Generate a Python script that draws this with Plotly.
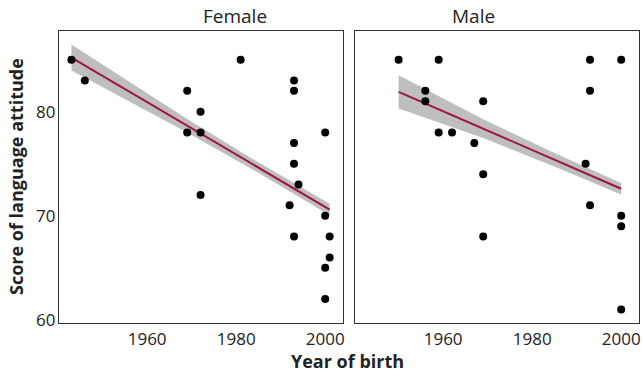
import plotly.graph_objects as go

# Female panel data
female_year = [1943, 1946, 1969, 1972, 1969, 1972, 1981, 1993, 1993, 2000, 1993,
               1993, 1994, 1972, 1992, 2000, 1993, 2001, 2001, 2000, 2000]
female_score = [85, 83, 82, 80, 78, 78, 85, 83, 82, 78, 77,
                75, 73, 72, 71, 70, 68, 68, 66, 65, 62]

# Male panel data
male_year = [1950, 1959, 1956, 1956, 1969, 1959, 1962, 1967, 1969, 1993, 2000,
             1993, 1992, 1969, 1993, 2000, 2000, 2000]
male_score = [85, 85, 82, 81, 81, 78, 78, 77, 74, 85, 85,
              82, 75, 68, 71, 70, 69, 61]

# Fitted trend and confidence band
female_fit_year = [1943, 1969, 1985, 2001]
female_fit = [85.2, 78.66, 74.63, 70.6]
female_fit_lo = [83.95, 78.0, 74.13, 70.05]
female_fit_hi = [86.45, 79.3, 75.13, 71.15]

male_fit_year = [1950, 1969, 1985, 2000]
male_fit = [81.9, 78.37, 75.39, 72.6]
male_fit_lo = [80.3, 77.47, 74.74, 72.05]
male_fit_hi = [83.5, 79.27, 76.04, 73.15]

x_ticks = [1960, 1980, 2000]
y_ticks = [60, 70, 80]
panel_titles = ["Female", "Male"]

LINE_COL = "#A0153E"
BAND_COL = "#BEBEBE"
FONT = "Open Sans"
TXT = "#222222"

fig = go.Figure()
panels = [
    (female_year, female_score, female_fit_year, female_fit, female_fit_lo, female_fit_hi, "x", "y"),
    (male_year, male_score, male_fit_year, male_fit, male_fit_lo, male_fit_hi, "x2", "y2"),
]
for xs, ys, fx, fy, flo, fhi, xa, ya in panels:
    fig.add_trace(go.Scatter(x=list(fx) + list(fx[::-1]), y=list(fhi) + list(flo[::-1]),
                             fill="toself", fillcolor=BAND_COL, line=dict(width=0),
                             mode="lines", hoverinfo="skip", showlegend=False, xaxis=xa, yaxis=ya))
    fig.add_trace(go.Scatter(x=fx, y=fy, mode="lines", line=dict(color=LINE_COL, width=2),
                             showlegend=False, xaxis=xa, yaxis=ya))
    fig.add_trace(go.Scatter(x=xs, y=ys, mode="markers",
                             marker=dict(color="black", size=8),
                             showlegend=False, xaxis=xa, yaxis=ya))

xr = [1940.2, 2004.0]
yr = [59.7, 87.75]
axis_common = dict(showgrid=False, zeroline=False, showline=True, linecolor="#333333",
                   linewidth=1.2, mirror=True, ticks="", automargin=False,
                   tickfont=dict(family=FONT, size=17, color=TXT))
ydom = [1 - 323 / 372, 1 - 31 / 372]

fig.update_layout(
    width=642, height=372, autosize=False,
    margin=dict(l=0, r=0, t=0, b=0, pad=0),
    paper_bgcolor="white", plot_bgcolor="white",
    font=dict(family=FONT, color=TXT),
    xaxis=dict(domain=[59 / 642, 343 / 642], range=xr, tickvals=x_ticks,
               anchor="y", ticklabelstandoff=0, **axis_common),
    xaxis2=dict(domain=[355 / 642, 639 / 642], range=xr, tickvals=x_ticks,
                anchor="y2", ticklabelstandoff=0, **axis_common),
    yaxis=dict(domain=ydom, range=yr, tickvals=y_ticks, anchor="x",
               ticklabelstandoff=-1, **axis_common),
    yaxis2=dict(domain=ydom, range=yr, tickvals=y_ticks, anchor="x2",
                showticklabels=False, **axis_common),
    annotations=[
        dict(text=panel_titles[0], x=(59 + 343) / 2 / 642, y=1 - 16 / 372, xref="paper", yref="paper",
             showarrow=False, font=dict(family=FONT, size=19, color=TXT), yanchor="middle"),
        dict(text=panel_titles[1], x=(355 + 639) / 2 / 642, y=1 - 16 / 372, xref="paper", yref="paper",
             showarrow=False, font=dict(family=FONT, size=19, color=TXT), yanchor="middle"),
        dict(text="<b>Year of birth</b>", x=347 / 642, y=1 - 361 / 372, xref="paper", yref="paper",
             showarrow=False, font=dict(family=FONT, size=18, color=TXT), yanchor="middle"),
        dict(text="<b>Score of language attitude</b>", x=16 / 642, y=1 - 177 / 372, xref="paper",
             yref="paper", showarrow=False, textangle=-90,
             font=dict(family=FONT, size=18, color=TXT), xanchor="center", yanchor="middle"),
    ],
)

fig.write_html("out.html", config={"displayModeBar": False},
               post_script="document.body.style.margin='0';")
